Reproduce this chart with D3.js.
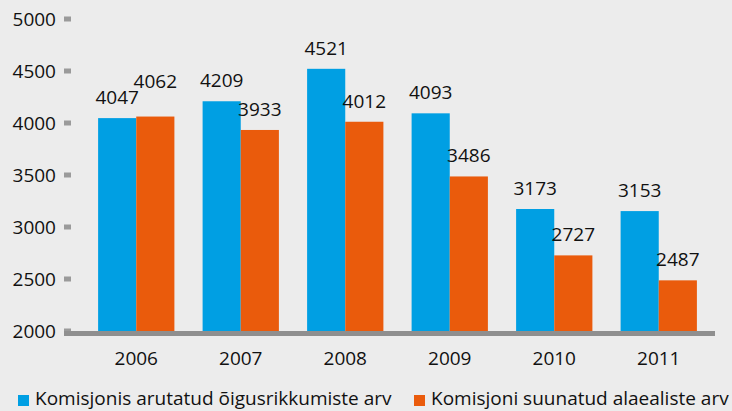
<!DOCTYPE html>
<html>
<head>
<meta charset="utf-8">
<script src="https://cdn.jsdelivr.net/npm/d3@7"></script>
<style>
  body { margin: 0; background: #ececec; }
  svg { display: block; font-family: "Open Sans", sans-serif; }
</style>
</head>
<body>
<div id="displaybox"></div>
<script>
let years = ["2006", "2007", "2008", "2009", "2010", "2011"];
let discussed = [4047, 4209, 4521, 4093, 3173, 3153];
let referred = [4062, 3933, 4012, 3486, 2727, 2487];
let seriesNames = ["Komisjonis arutatud õigusrikkumiste arv", "Komisjoni suunatud alaealiste arv"];
let colors = ["#009fe3", "#ea5b0c"];
let yTicks = [2000, 2500, 3000, 3500, 4000, 4500, 5000];

let width = 732, height = 411;
let svg = d3.select("#displaybox").append("svg")
    .attr("width", width)
    .attr("height", height);

svg.append("rect").attr("width", width).attr("height", height).attr("fill", "#ececec");

// scales
let x0 = d3.scaleBand()
    .domain(years)
    .range([84, 711])
    .paddingInner(0.27)
    .paddingOuter(0.135);
let x1 = d3.scaleBand()
    .domain([0, 1])
    .range([0, x0.bandwidth()]);
let y = d3.scaleLinear()
    .domain([2000, 5000])
    .range([331, 19]);

// y ticks: small grey squares + labels
let yg = svg.append("g");
yg.selectAll("rect").data(yTicks).enter().append("rect")
    .attr("x", 64).attr("y", d => y(d) - 2.5)
    .attr("width", 7).attr("height", 5)
    .attr("fill", "#9a9a9a");
yg.selectAll("text").data(yTicks).enter().append("text")
    .attr("x", 56).attr("y", d => y(d))
    .attr("dy", "0.35em")
    .attr("text-anchor", "end")
    .attr("font-size", 19)
    .attr("fill", "#111")
    .text(d => d);

// bars
let rows = years.map((yr, i) => ({year: yr, vals: [discussed[i], referred[i]]}));
let groups = svg.selectAll("g.grp").data(rows).enter().append("g")
    .attr("class", "grp")
    .attr("transform", d => `translate(${x0(d.year)},0)`);
groups.selectAll("rect").data(d => d.vals).enter().append("rect")
    .attr("x", (d, i) => x1(i))
    .attr("y", d => y(d))
    .attr("width", x1.bandwidth())
    .attr("height", d => y.range()[0] - y(d))
    .attr("fill", (d, i) => colors[i]);

// value labels, orange one pushed up when it would collide with the blue one
groups.each(function(d) {
    let g = d3.select(this);
    let by = y(d.vals[0]) - 14;
    let oy = y(d.vals[1]) - 14;
    if (Math.abs(by - oy) < 16) oy = by - 16;
    [by, oy].forEach((ly, i) => {
        g.append("text")
            .attr("x", x1(i) + x1.bandwidth() / 2)
            .attr("y", ly)
            .attr("text-anchor", "middle")
            .attr("font-size", 19)
            .attr("fill", "#111")
            .text(d.vals[i]);
    });
});

// x axis line
svg.append("rect")
    .attr("x", 64).attr("y", 331)
    .attr("width", 651).attr("height", 5)
    .attr("fill", "#8f8f8f");

svg.append("g").selectAll("text").data(years).enter().append("text")
    .attr("x", d => x0(d) + x0.bandwidth() / 2)
    .attr("y", 365)
    .attr("text-anchor", "middle")
    .attr("font-size", 19)
    .attr("fill", "#111")
    .text(d => d);

// legend
let legendX = [18, 414];
let lg = svg.append("g");
seriesNames.forEach((name, i) => {
    lg.append("rect")
        .attr("x", legendX[i]).attr("y", 395)
        .attr("width", 11).attr("height", 11)
        .attr("fill", colors[i]);
    lg.append("text")
        .attr("x", legendX[i] + 17).attr("y", 405)
        .attr("font-size", 19)
        .attr("fill", "#111")
        .text(name);
});
</script>
</body>
</html>
